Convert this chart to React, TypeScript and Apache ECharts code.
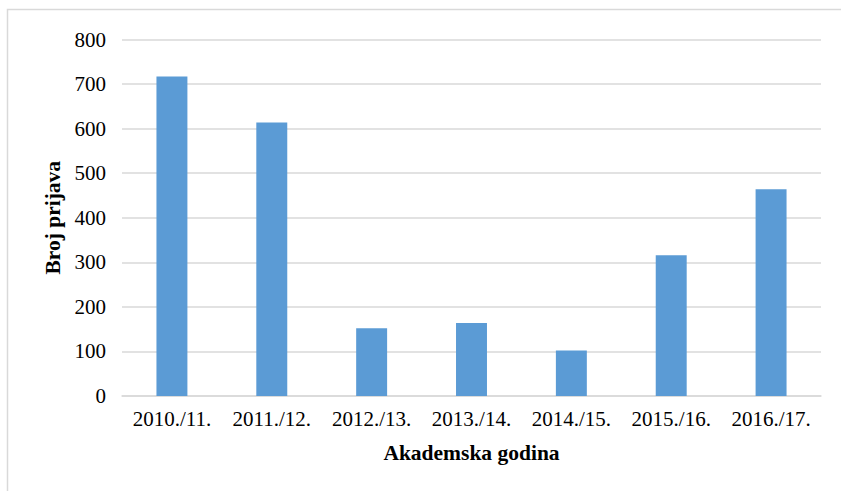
import React, { useEffect, useRef } from "react";
import * as echarts from "echarts";

const categories = ["2010./11.", "2011./12.", "2012./13.", "2013./14.", "2014./15.", "2015./16.", "2016./17."];
const values = [717, 614, 152, 164, 102, 316, 464];
const yTicks = { min: 0, max: 800, interval: 100 };

const FONT = "'Liberation Serif', 'Times New Roman', serif";

export default function App() {
  const ref = useRef<HTMLDivElement>(null);
  useEffect(() => {
    document.body.style.margin = "0";
    const chart = echarts.init(ref.current!, null, { renderer: "svg" });
    chart.setOption({
      animation: false,
      backgroundColor: "#ffffff",
      textStyle: { fontFamily: FONT },
      graphic: [
        {
          type: "rect",
          shape: { x: 7.5, y: 9.5, width: 900, height: 600 },
          style: { fill: "none", stroke: "#d9d9d9", lineWidth: 1.5 },
          silent: true,
        },
      ],
      grid: { left: 122, right: 20, top: 39.5, bottom: 95, containLabel: false },
      xAxis: {
        type: "category",
        data: categories,
        name: "Akademska godina",
        nameLocation: "middle",
        nameGap: 46,
        nameTextStyle: { fontFamily: FONT, fontSize: 21.5, fontWeight: "bold", color: "#000" },
        axisLine: { lineStyle: { color: "#d9d9d9", width: 1.5 } },
        axisTick: { show: false },
        axisLabel: { fontFamily: FONT, fontSize: 21, color: "#000", margin: 12, interval: 0, hideOverlap: false },
      },
      yAxis: {
        type: "value",
        min: yTicks.min,
        max: yTicks.max,
        interval: yTicks.interval,
        name: "Broj prijava",
        nameLocation: "middle",
        nameGap: 57,
        nameTextStyle: { fontFamily: FONT, fontSize: 21.5, fontWeight: "bold", color: "#000" },
        axisLine: { show: false },
        axisTick: { show: false },
        axisLabel: { fontFamily: FONT, fontSize: 21, color: "#000", margin: 16 },
        splitLine: { lineStyle: { color: "#d9d9d9", width: 1.5 } },
      },
      series: [
        {
          type: "bar",
          data: values,
          barWidth: "31%",
          itemStyle: { color: "#5b9bd5" },
        },
      ],
    });
    return () => chart.dispose();
  }, []);
  return <div ref={ref} style={{ position: "absolute", left: 0, top: 0, width: 841, height: 491 }} />;
}
